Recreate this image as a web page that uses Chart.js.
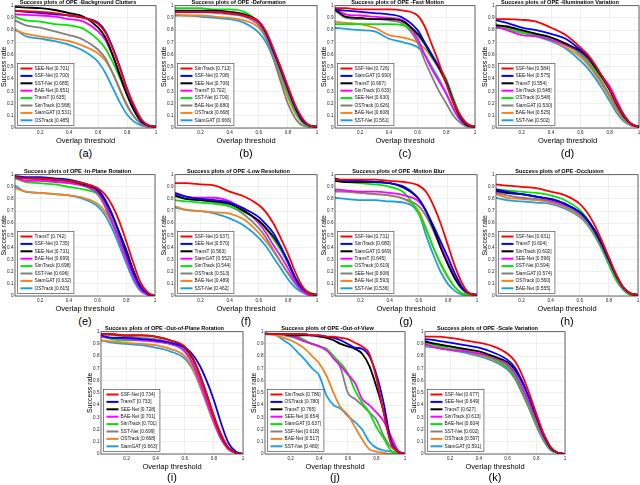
<!DOCTYPE html>
<html>
<head>
<meta charset="utf-8">
<script src="https://cdn.jsdelivr.net/npm/chart.js@4.4.1/dist/chart.umd.min.js"></script>
<style>
  body { margin: 0; background: #fff; }
  #page { position: relative; width: 640px; height: 485px; overflow: hidden; background: #fff; }
  canvas { position: absolute; }
  .tag { position: absolute; width: 40px; text-align: center; font: 11px 'Liberation Sans', Arial, sans-serif; line-height: 14px; color: #000; }
</style>
</head>
<body>
<div id="page"></div>
<script>
// overlap thresholds (x) shared by most panels
const thresholds = [0.025, 0.1, 0.2, 0.3, 0.4, 0.5, 0.6, 0.65, 0.7, 0.75, 0.8, 0.85, 0.9, 0.95, 1];
const thresholdsOOV = [0.02, 0.1, 0.15, 0.2, 0.25, 0.3, 0.35, 0.4, 0.45, 0.5, 0.55, 0.6, 0.65, 0.7, 0.75, 0.8, 0.85, 0.9, 0.95, 1];
const xTicks = [0.2, 0.4, 0.6, 0.8, 1];
const yTicks = [0, 0.1, 0.2, 0.3, 0.4, 0.5, 0.6, 0.7, 0.8, 0.9, 1];
const lineColors = ['#ff0000', '#0000ff', '#000000', '#ff00ff', '#00e600', '#808080', '#f5821f', '#1ea0e0'];

// (a) Background Clutters
const bcNames = ['SEE-Net', 'SSF-Net', 'SST-Net', 'BAE-Net', 'TransT', 'SimTrack', 'SiamGAT', 'OSTrack'];
const bcScores = [0.701, 0.700, 0.685, 0.651, 0.635, 0.568, 0.531, 0.485];
const bcRates = [
  [0.96, 0.955, 0.95, 0.94, 0.92, 0.90, 0.85, 0.78, 0.65, 0.49, 0.32, 0.18, 0.07, 0.02, 0.01],
  [0.96, 0.95, 0.94, 0.93, 0.92, 0.90, 0.86, 0.79, 0.66, 0.50, 0.32, 0.17, 0.06, 0.02, 0.01],
  [0.99, 0.985, 0.98, 0.965, 0.94, 0.91, 0.82, 0.74, 0.60, 0.43, 0.27, 0.14, 0.05, 0.02, 0.01],
  [0.93, 0.925, 0.92, 0.91, 0.89, 0.87, 0.79, 0.72, 0.59, 0.44, 0.27, 0.14, 0.05, 0.02, 0.01],
  [0.91, 0.88, 0.87, 0.85, 0.84, 0.81, 0.72, 0.65, 0.54, 0.41, 0.27, 0.14, 0.05, 0.02, 0.01],
  [0.88, 0.84, 0.82, 0.79, 0.76, 0.72, 0.64, 0.57, 0.45, 0.31, 0.18, 0.09, 0.03, 0.01, 0.01],
  [0.80, 0.77, 0.75, 0.73, 0.71, 0.67, 0.61, 0.55, 0.45, 0.32, 0.19, 0.09, 0.03, 0.01, 0.01],
  [0.81, 0.75, 0.73, 0.71, 0.68, 0.63, 0.54, 0.45, 0.33, 0.21, 0.11, 0.05, 0.02, 0.01, 0.0]
];

// (b) Deformation
const dfNames = ['SimTrack', 'SSF-Net', 'SEE-Net', 'TransT', 'SST-Net', 'BAE-Net', 'OSTrack', 'SiamGAT'];
const dfScores = [0.713, 0.708, 0.706, 0.702, 0.700, 0.680, 0.668, 0.666];
const dfRates = [
  [0.95, 0.95, 0.95, 0.95, 0.94, 0.92, 0.87, 0.79, 0.65, 0.50, 0.34, 0.19, 0.08, 0.02, 0.01],
  [0.95, 0.95, 0.95, 0.95, 0.94, 0.92, 0.87, 0.78, 0.63, 0.48, 0.32, 0.17, 0.06, 0.02, 0.01],
  [0.96, 0.96, 0.96, 0.96, 0.95, 0.93, 0.87, 0.78, 0.64, 0.49, 0.33, 0.17, 0.06, 0.02, 0.01],
  [0.95, 0.95, 0.95, 0.95, 0.94, 0.92, 0.86, 0.77, 0.62, 0.47, 0.31, 0.17, 0.06, 0.02, 0.01],
  [0.98, 0.98, 0.98, 0.97, 0.97, 0.95, 0.86, 0.76, 0.61, 0.45, 0.28, 0.14, 0.05, 0.01, 0.01],
  [0.95, 0.95, 0.95, 0.94, 0.93, 0.91, 0.84, 0.74, 0.57, 0.38, 0.20, 0.08, 0.02, 0.01, 0.01],
  [0.93, 0.92, 0.92, 0.91, 0.90, 0.88, 0.82, 0.73, 0.57, 0.41, 0.25, 0.12, 0.04, 0.01, 0.01],
  [0.92, 0.92, 0.91, 0.90, 0.89, 0.86, 0.78, 0.70, 0.57, 0.42, 0.27, 0.14, 0.05, 0.02, 0.01]
];

// (c) Fast Motion
const fmNames = ['SSF-Net', 'SiamGAT', 'TransT', 'SimTrack', 'SEE-Net', 'OSTrack', 'BAE-Net', 'SST-Net'];
const fmScores = [0.726, 0.690, 0.667, 0.633, 0.630, 0.626, 0.608, 0.561];
const fmRates = [
  [0.98, 0.98, 0.97, 0.97, 0.97, 0.96, 0.92, 0.83, 0.68, 0.53, 0.36, 0.21, 0.10, 0.03, 0.01],
  [0.97, 0.96, 0.95, 0.94, 0.93, 0.90, 0.80, 0.70, 0.60, 0.50, 0.38, 0.22, 0.09, 0.03, 0.01],
  [0.97, 0.91, 0.90, 0.89, 0.89, 0.87, 0.77, 0.69, 0.59, 0.49, 0.37, 0.21, 0.08, 0.02, 0.01],
  [0.98, 0.93, 0.92, 0.91, 0.90, 0.88, 0.73, 0.60, 0.48, 0.38, 0.28, 0.16, 0.06, 0.02, 0.01],
  [0.85, 0.85, 0.85, 0.85, 0.85, 0.84, 0.76, 0.68, 0.58, 0.50, 0.40, 0.24, 0.10, 0.03, 0.01],
  [0.96, 0.90, 0.89, 0.89, 0.88, 0.85, 0.70, 0.55, 0.42, 0.30, 0.20, 0.10, 0.04, 0.01, 0.01],
  [0.87, 0.86, 0.85, 0.82, 0.76, 0.74, 0.70, 0.65, 0.57, 0.48, 0.36, 0.20, 0.08, 0.02, 0.01],
  [0.82, 0.81, 0.80, 0.79, 0.73, 0.70, 0.66, 0.60, 0.50, 0.40, 0.28, 0.15, 0.06, 0.02, 0.01]
];

// (d) Illumination Variation
const ivNames = ['SSF-Net', 'SEE-Net', 'TransT', 'SimTrack', 'OSTrack', 'SiamGAT', 'BAE-Net', 'SST-Net'];
const ivScores = [0.584, 0.575, 0.554, 0.548, 0.548, 0.530, 0.525, 0.502];
const ivRates = [
  [0.89, 0.89, 0.885, 0.87, 0.82, 0.76, 0.66, 0.60, 0.52, 0.42, 0.32, 0.20, 0.10, 0.03, 0.01],
  [0.88, 0.86, 0.82, 0.80, 0.77, 0.73, 0.64, 0.59, 0.51, 0.42, 0.32, 0.20, 0.10, 0.03, 0.01],
  [0.84, 0.83, 0.80, 0.77, 0.74, 0.69, 0.63, 0.58, 0.50, 0.41, 0.31, 0.19, 0.09, 0.03, 0.01],
  [0.83, 0.80, 0.76, 0.75, 0.72, 0.68, 0.62, 0.57, 0.50, 0.42, 0.34, 0.22, 0.10, 0.03, 0.01],
  [0.85, 0.81, 0.78, 0.76, 0.73, 0.68, 0.61, 0.56, 0.48, 0.40, 0.31, 0.19, 0.09, 0.03, 0.01],
  [0.84, 0.83, 0.79, 0.77, 0.74, 0.69, 0.60, 0.54, 0.46, 0.37, 0.27, 0.16, 0.07, 0.02, 0.01],
  [0.83, 0.82, 0.78, 0.76, 0.72, 0.66, 0.58, 0.52, 0.44, 0.35, 0.25, 0.14, 0.06, 0.02, 0.01],
  [0.82, 0.81, 0.78, 0.75, 0.71, 0.65, 0.55, 0.49, 0.41, 0.32, 0.22, 0.12, 0.05, 0.02, 0.01]
];

// (e) In-Plane Rotation
const iprNames = ['TransT', 'SSF-Net', 'SEE-Net', 'BAE-Net', 'SimTrack', 'SST-Net', 'SiamGAT', 'OSTrack'];
const iprScores = [0.742, 0.735, 0.731, 0.699, 0.698, 0.696, 0.632, 0.615];
const iprRates = [
  [0.98, 0.97, 0.97, 0.96, 0.95, 0.93, 0.89, 0.84, 0.75, 0.62, 0.45, 0.27, 0.11, 0.03, 0.0],
  [0.99, 0.98, 0.98, 0.97, 0.96, 0.93, 0.88, 0.80, 0.68, 0.52, 0.35, 0.19, 0.07, 0.02, 0.0],
  [0.98, 0.97, 0.97, 0.96, 0.95, 0.92, 0.87, 0.79, 0.67, 0.53, 0.38, 0.21, 0.08, 0.02, 0.0],
  [0.98, 0.95, 0.95, 0.94, 0.93, 0.91, 0.85, 0.76, 0.62, 0.47, 0.31, 0.16, 0.05, 0.01, 0.0],
  [0.97, 0.94, 0.93, 0.92, 0.90, 0.88, 0.84, 0.76, 0.63, 0.49, 0.33, 0.18, 0.06, 0.02, 0.0],
  [0.98, 0.97, 0.96, 0.95, 0.94, 0.91, 0.84, 0.74, 0.60, 0.45, 0.29, 0.15, 0.05, 0.01, 0.0],
  [0.89, 0.86, 0.85, 0.84, 0.83, 0.81, 0.76, 0.70, 0.60, 0.46, 0.31, 0.16, 0.05, 0.01, 0.0],
  [0.91, 0.86, 0.85, 0.84, 0.83, 0.80, 0.74, 0.67, 0.56, 0.42, 0.27, 0.13, 0.04, 0.01, 0.0]
];

// (f) Low Resolution
const lrNames = ['SSF-Net', 'SEE-Net', 'TransT', 'SiamGAT', 'SimTrack', 'OSTrack', 'BAE-Net', 'SST-Net'];
const lrScores = [0.637, 0.570, 0.563, 0.552, 0.544, 0.513, 0.489, 0.462];
const lrRates = [
  [0.93, 0.93, 0.92, 0.91, 0.86, 0.82, 0.75, 0.69, 0.60, 0.48, 0.35, 0.20, 0.08, 0.02, 0.01],
  [0.85, 0.82, 0.80, 0.79, 0.77, 0.72, 0.65, 0.59, 0.52, 0.41, 0.28, 0.15, 0.06, 0.02, 0.01],
  [0.83, 0.80, 0.79, 0.78, 0.76, 0.70, 0.62, 0.56, 0.49, 0.40, 0.29, 0.15, 0.06, 0.02, 0.01],
  [0.84, 0.82, 0.81, 0.81, 0.78, 0.71, 0.60, 0.52, 0.42, 0.33, 0.23, 0.12, 0.04, 0.01, 0.01],
  [0.79, 0.78, 0.77, 0.76, 0.74, 0.69, 0.62, 0.55, 0.47, 0.38, 0.27, 0.16, 0.07, 0.03, 0.01],
  [0.82, 0.80, 0.79, 0.77, 0.74, 0.67, 0.56, 0.48, 0.38, 0.28, 0.19, 0.10, 0.04, 0.01, 0.01],
  [0.74, 0.71, 0.70, 0.69, 0.68, 0.63, 0.52, 0.45, 0.37, 0.28, 0.19, 0.11, 0.04, 0.01, 0.01],
  [0.73, 0.71, 0.70, 0.68, 0.64, 0.58, 0.48, 0.41, 0.32, 0.23, 0.14, 0.07, 0.03, 0.01, 0.01]
];

// (g) Motion Blur
const mbNames = ['SSF-Net', 'SimTrack', 'SiamGAT', 'TransT', 'OSTrack', 'SEE-Net', 'BAE-Net', 'SST-Net'];
const mbScores = [0.731, 0.680, 0.669, 0.645, 0.619, 0.608, 0.593, 0.536];
const mbRates = [
  [0.96, 0.96, 0.96, 0.96, 0.95, 0.94, 0.91, 0.86, 0.75, 0.60, 0.42, 0.24, 0.10, 0.02, 0.01],
  [0.97, 0.95, 0.95, 0.94, 0.93, 0.90, 0.80, 0.70, 0.58, 0.45, 0.32, 0.18, 0.07, 0.02, 0.01],
  [0.95, 0.94, 0.94, 0.94, 0.93, 0.89, 0.80, 0.70, 0.56, 0.40, 0.26, 0.14, 0.06, 0.02, 0.01],
  [0.88, 0.87, 0.86, 0.86, 0.85, 0.83, 0.78, 0.70, 0.57, 0.42, 0.28, 0.15, 0.06, 0.02, 0.01],
  [0.95, 0.94, 0.93, 0.92, 0.90, 0.85, 0.68, 0.55, 0.40, 0.27, 0.16, 0.07, 0.02, 0.01, 0.01],
  [0.86, 0.86, 0.85, 0.84, 0.83, 0.80, 0.74, 0.66, 0.54, 0.40, 0.27, 0.14, 0.05, 0.01, 0.01],
  [0.87, 0.86, 0.85, 0.84, 0.83, 0.80, 0.70, 0.56, 0.40, 0.26, 0.15, 0.07, 0.02, 0.01, 0.01],
  [0.81, 0.80, 0.79, 0.79, 0.78, 0.77, 0.68, 0.50, 0.34, 0.20, 0.10, 0.04, 0.01, 0.01, 0.01]
];

// (h) Occlusion
const ocNames = ['SSF-Net', 'TransT', 'SimTrack', 'SEE-Net', 'SST-Net', 'SiamGAT', 'OSTrack', 'BAE-Net'];
const ocScores = [0.631, 0.604, 0.602, 0.596, 0.594, 0.574, 0.560, 0.555];
const ocRates = [
  [0.92, 0.91, 0.90, 0.89, 0.86, 0.83, 0.76, 0.69, 0.59, 0.46, 0.32, 0.18, 0.07, 0.02, 0.01],
  [0.88, 0.86, 0.84, 0.82, 0.80, 0.76, 0.69, 0.63, 0.55, 0.44, 0.31, 0.17, 0.07, 0.02, 0.01],
  [0.87, 0.85, 0.84, 0.82, 0.80, 0.76, 0.69, 0.63, 0.54, 0.43, 0.30, 0.17, 0.07, 0.02, 0.01],
  [0.86, 0.85, 0.84, 0.82, 0.79, 0.75, 0.69, 0.63, 0.54, 0.42, 0.29, 0.16, 0.06, 0.02, 0.01],
  [0.88, 0.87, 0.86, 0.85, 0.83, 0.79, 0.71, 0.64, 0.53, 0.40, 0.26, 0.13, 0.05, 0.01, 0.01],
  [0.85, 0.83, 0.81, 0.80, 0.78, 0.74, 0.67, 0.61, 0.52, 0.40, 0.27, 0.15, 0.06, 0.02, 0.01],
  [0.84, 0.81, 0.80, 0.79, 0.77, 0.73, 0.66, 0.60, 0.51, 0.40, 0.27, 0.15, 0.06, 0.02, 0.01],
  [0.81, 0.79, 0.78, 0.77, 0.76, 0.72, 0.65, 0.59, 0.50, 0.39, 0.26, 0.14, 0.05, 0.01, 0.01]
];

// (i) Out-of-Plane Rotation
const oprNames = ['SSF-Net', 'TransT', 'SEE-Net', 'BAE-Net', 'SimTrack', 'SST-Net', 'OSTrack', 'SiamGAT'];
const oprScores = [0.734, 0.733, 0.728, 0.701, 0.701, 0.699, 0.668, 0.663];
const oprRates = [
  [0.98, 0.98, 0.97, 0.97, 0.96, 0.93, 0.88, 0.80, 0.66, 0.49, 0.31, 0.16, 0.05, 0.01, 0.0],
  [0.97, 0.95, 0.95, 0.94, 0.93, 0.91, 0.87, 0.82, 0.73, 0.60, 0.44, 0.25, 0.09, 0.02, 0.0],
  [0.98, 0.98, 0.97, 0.97, 0.96, 0.93, 0.87, 0.79, 0.66, 0.49, 0.31, 0.15, 0.05, 0.01, 0.0],
  [0.96, 0.95, 0.94, 0.93, 0.92, 0.90, 0.84, 0.75, 0.61, 0.44, 0.27, 0.13, 0.04, 0.01, 0.0],
  [0.96, 0.94, 0.93, 0.93, 0.92, 0.90, 0.85, 0.76, 0.62, 0.45, 0.28, 0.14, 0.05, 0.01, 0.0],
  [0.98, 0.97, 0.96, 0.95, 0.94, 0.91, 0.84, 0.74, 0.59, 0.42, 0.26, 0.12, 0.04, 0.01, 0.0],
  [0.93, 0.92, 0.91, 0.90, 0.89, 0.86, 0.80, 0.71, 0.57, 0.41, 0.25, 0.12, 0.04, 0.01, 0.0],
  [0.93, 0.91, 0.90, 0.89, 0.87, 0.84, 0.78, 0.70, 0.57, 0.42, 0.26, 0.13, 0.04, 0.01, 0.0]
];

// (j) Out-of-View (uses the finer threshold list)
const oovNames = ['SimTrack', 'OSTrack', 'TransT', 'SEE-Net', 'SiamGAT', 'SSF-Net', 'BAE-Net', 'SST-Net'];
const oovScores = [0.786, 0.780, 0.765, 0.654, 0.637, 0.618, 0.517, 0.480];
const oovRates = [
  [0.98, 0.98, 0.98, 0.98, 0.98, 0.98, 0.97, 0.97, 0.96, 0.96, 0.95, 0.94, 0.91, 0.88, 0.82, 0.62, 0.34, 0.09, 0.02, 0.0],
  [0.98, 0.98, 0.98, 0.98, 0.98, 0.98, 0.97, 0.97, 0.96, 0.95, 0.93, 0.90, 0.87, 0.86, 0.80, 0.65, 0.42, 0.12, 0.02, 0.0],
  [0.98, 0.98, 0.98, 0.97, 0.97, 0.97, 0.97, 0.96, 0.95, 0.93, 0.90, 0.88, 0.86, 0.82, 0.72, 0.55, 0.35, 0.10, 0.02, 0.0],
  [0.98, 0.98, 0.98, 0.97, 0.95, 0.92, 0.90, 0.88, 0.85, 0.78, 0.72, 0.65, 0.58, 0.45, 0.40, 0.34, 0.27, 0.15, 0.03, 0.0],
  [0.98, 0.98, 0.98, 0.97, 0.96, 0.93, 0.90, 0.88, 0.86, 0.80, 0.74, 0.66, 0.52, 0.42, 0.34, 0.22, 0.13, 0.03, 0.01, 0.0],
  [0.98, 0.98, 0.97, 0.96, 0.94, 0.92, 0.90, 0.88, 0.85, 0.80, 0.70, 0.50, 0.45, 0.40, 0.34, 0.28, 0.15, 0.06, 0.02, 0.0],
  [0.98, 0.97, 0.95, 0.93, 0.90, 0.86, 0.80, 0.74, 0.64, 0.50, 0.38, 0.32, 0.22, 0.12, 0.04, 0.02, 0.01, 0.0, 0.0, 0.0],
  [0.99, 0.97, 0.93, 0.89, 0.83, 0.77, 0.70, 0.64, 0.48, 0.40, 0.37, 0.31, 0.26, 0.20, 0.10, 0.05, 0.03, 0.02, 0.01, 0.0]
];

// (k) Scale Variation
const svNames = ['SSF-Net', 'SEE-Net', 'TransT', 'SimTrack', 'BAE-Net', 'SST-Net', 'OSTrack', 'SiamGAT'];
const svScores = [0.677, 0.649, 0.627, 0.613, 0.604, 0.602, 0.597, 0.591];
const svRates = [
  [0.96, 0.96, 0.95, 0.93, 0.91, 0.88, 0.82, 0.76, 0.65, 0.50, 0.33, 0.17, 0.06, 0.01, 0.0],
  [0.94, 0.93, 0.91, 0.89, 0.87, 0.83, 0.77, 0.71, 0.60, 0.46, 0.31, 0.16, 0.05, 0.01, 0.0],
  [0.92, 0.90, 0.88, 0.86, 0.84, 0.80, 0.75, 0.69, 0.59, 0.46, 0.31, 0.16, 0.05, 0.01, 0.0],
  [0.90, 0.87, 0.85, 0.84, 0.82, 0.79, 0.73, 0.66, 0.55, 0.42, 0.28, 0.14, 0.05, 0.01, 0.0],
  [0.91, 0.89, 0.86, 0.84, 0.82, 0.78, 0.71, 0.64, 0.53, 0.40, 0.26, 0.13, 0.04, 0.01, 0.0],
  [0.92, 0.90, 0.88, 0.85, 0.82, 0.78, 0.70, 0.62, 0.50, 0.37, 0.23, 0.11, 0.03, 0.01, 0.0],
  [0.89, 0.88, 0.86, 0.84, 0.81, 0.77, 0.70, 0.63, 0.52, 0.39, 0.25, 0.12, 0.04, 0.01, 0.0],
  [0.88, 0.87, 0.85, 0.83, 0.80, 0.76, 0.69, 0.62, 0.51, 0.38, 0.25, 0.12, 0.04, 0.01, 0.0]
];

// plot-area boxes [left, top, right, bottom] in page pixels, and caption y
const panels = [
  { title: 'Success plots of OPE -Background Clutters', names: bcNames, scores: bcScores, rates: bcRates, xs: thresholds, tag: '(a)', box: [15, 6, 156, 128], tagY: 153 },
  { title: 'Success plots of OPE -Deformation', names: dfNames, scores: dfScores, rates: dfRates, xs: thresholds, tag: '(b)', box: [175, 6, 317, 128], tagY: 153 },
  { title: 'Success plots of OPE -Fast Motion', names: fmNames, scores: fmScores, rates: fmRates, xs: thresholds, tag: '(c)', box: [335, 6, 475, 128], tagY: 153 },
  { title: 'Success plots of OPE -Illumination Variation', names: ivNames, scores: ivScores, rates: ivRates, xs: thresholds, tag: '(d)', box: [496, 6, 639, 128], tagY: 153 },
  { title: 'Success plots of OPE -In-Plane Rotation', names: iprNames, scores: iprScores, rates: iprRates, xs: thresholds, tag: '(e)', box: [15, 175, 155, 296], tagY: 321 },
  { title: 'Success plots of OPE -Low Resolution', names: lrNames, scores: lrScores, rates: lrRates, xs: thresholds, tag: '(f)', box: [175, 175, 317, 296], tagY: 321 },
  { title: 'Success plots of OPE -Motion Blur', names: mbNames, scores: mbScores, rates: mbRates, xs: thresholds, tag: '(g)', box: [335, 175, 477, 296], tagY: 321 },
  { title: 'Success plots of OPE -Occlusion', names: ocNames, scores: ocScores, rates: ocRates, xs: thresholds, tag: '(h)', box: [496, 175, 638, 296], tagY: 321 },
  { title: 'Success plots of OPE -Out-of-Plane Rotation', names: oprNames, scores: oprScores, rates: oprRates, xs: thresholds, tag: '(i)', box: [101, 332, 243, 454], tagY: 477 },
  { title: 'Success plots of OPE -Out-of-View', names: oovNames, scores: oovScores, rates: oovRates, xs: thresholdsOOV, tag: '(j)', box: [265, 332, 405, 454], tagY: 477 },
  { title: 'Success plots of OPE -Scale Variation', names: svNames, scores: svScores, rates: svRates, xs: thresholds, tag: '(k)', box: [425, 332, 565, 454], tagY: 477 }
];

const FONT = '"Liberation Sans", Arial, sans-serif';

// legend box in the lower-left corner of the plot + the axes frame
const insideLegend = {
  id: 'insideLegend',
  afterDatasetsDraw(chart) {
    const { ctx, chartArea: a } = chart;
    const sets = chart.data.datasets;
    ctx.save();
    ctx.font = '4.8px ' + FONT;
    const tw = Math.max(...sets.map(d => ctx.measureText(d.label).width));
    const rowH = 7.4;
    const w = 17 + tw + 3;
    const h = sets.length * rowH + 3;
    const x0 = a.left + 2.5;
    const y0 = a.bottom - 2.5 - h;
    ctx.fillStyle = '#fff';
    ctx.fillRect(x0, y0, w, h);
    ctx.strokeStyle = '#333';
    ctx.lineWidth = 0.6;
    ctx.strokeRect(x0, y0, w, h);
    sets.forEach((d, i) => {
      const cy = y0 + 1.5 + rowH * (i + 0.5);
      ctx.strokeStyle = d.borderColor;
      ctx.lineWidth = 2;
      ctx.beginPath();
      ctx.moveTo(x0 + 3, cy);
      ctx.lineTo(x0 + 15, cy);
      ctx.stroke();
      ctx.fillStyle = '#111';
      ctx.textBaseline = 'middle';
      ctx.fillText(d.label, x0 + 17, cy);
    });
    ctx.strokeStyle = '#262626';
    ctx.lineWidth = 0.7;
    ctx.strokeRect(a.left, a.top, a.right - a.left, a.bottom - a.top);
    ctx.restore();
  }
};

const page = document.getElementById('page');

panels.forEach(p => {
  const [L, T, R, B] = p.box;
  const cl = L - 15, ct = T - 7, cw = R - L + 20, ch = B - T + 25;
  const cv = document.createElement('canvas');
  cv.width = cw;
  cv.height = ch;
  cv.style.left = cl + 'px';
  cv.style.top = ct + 'px';
  cv.style.width = cw + 'px';
  cv.style.height = ch + 'px';
  page.appendChild(cv);

  const datasets = p.rates.map((r, i) => ({
    label: p.names[i] + ' [' + p.scores[i].toFixed(3) + ']',
    data: r.map((v, k) => ({ x: p.xs[k], y: v })),
    borderColor: lineColors[i],
    backgroundColor: lineColors[i],
    borderWidth: 1.8,
    pointRadius: 0,
    fill: false,
    cubicInterpolationMode: 'monotone'
  }));

  new Chart(cv, {
    type: 'line',
    data: { datasets },
    options: {
      responsive: false,
      animation: false,
      devicePixelRatio: 1,
      layout: { padding: { left: 0, right: 5, top: 0, bottom: 0 } },
      plugins: {
        legend: { display: false },
        tooltip: { enabled: false },
        title: {
          display: true,
          text: p.title,
          color: '#000',
          font: { family: FONT, size: 5.6, weight: 'bold', lineHeight: 1.2 },
          padding: { top: 0, bottom: 0 }
        }
      },
      scales: {
        x: {
          type: 'linear',
          min: p.xs[0],
          max: 1,
          afterBuildTicks: s => { s.ticks = xTicks.map(v => ({ value: v })); },
          afterFit: s => { s.height = 18; },
          grid: { color: '#e4e4e4', lineWidth: 0.6, drawTicks: false },
          border: { display: false },
          ticks: { font: { family: FONT, size: 4.6 }, color: '#222', padding: 2, maxRotation: 0, autoSkip: false, callback: v => String(v) },
          title: { display: true, text: 'Overlap threshold', color: '#000', font: { family: FONT, size: 7.5 }, padding: { top: 0, bottom: 0.5 } }
        },
        y: {
          min: 0,
          max: 1,
          afterBuildTicks: s => { s.ticks = yTicks.map(v => ({ value: v })); },
          afterFit: s => { s.width = 15; },
          grid: { color: '#e4e4e4', lineWidth: 0.6, drawTicks: false },
          border: { display: false },
          ticks: { font: { family: FONT, size: 4.6 }, color: '#222', padding: 1.5, autoSkip: false, callback: v => String(v) },
          title: { display: true, text: 'Success rate', color: '#000', font: { family: FONT, size: 7 }, padding: 0 }
        }
      }
    },
    plugins: [insideLegend]
  });

  const tag = document.createElement('div');
  tag.className = 'tag';
  tag.textContent = p.tag;
  tag.style.left = ((L + R) / 2 - 20) + 'px';
  tag.style.top = (p.tagY - 7) + 'px';
  page.appendChild(tag);
});
</script>
</body>
</html>
